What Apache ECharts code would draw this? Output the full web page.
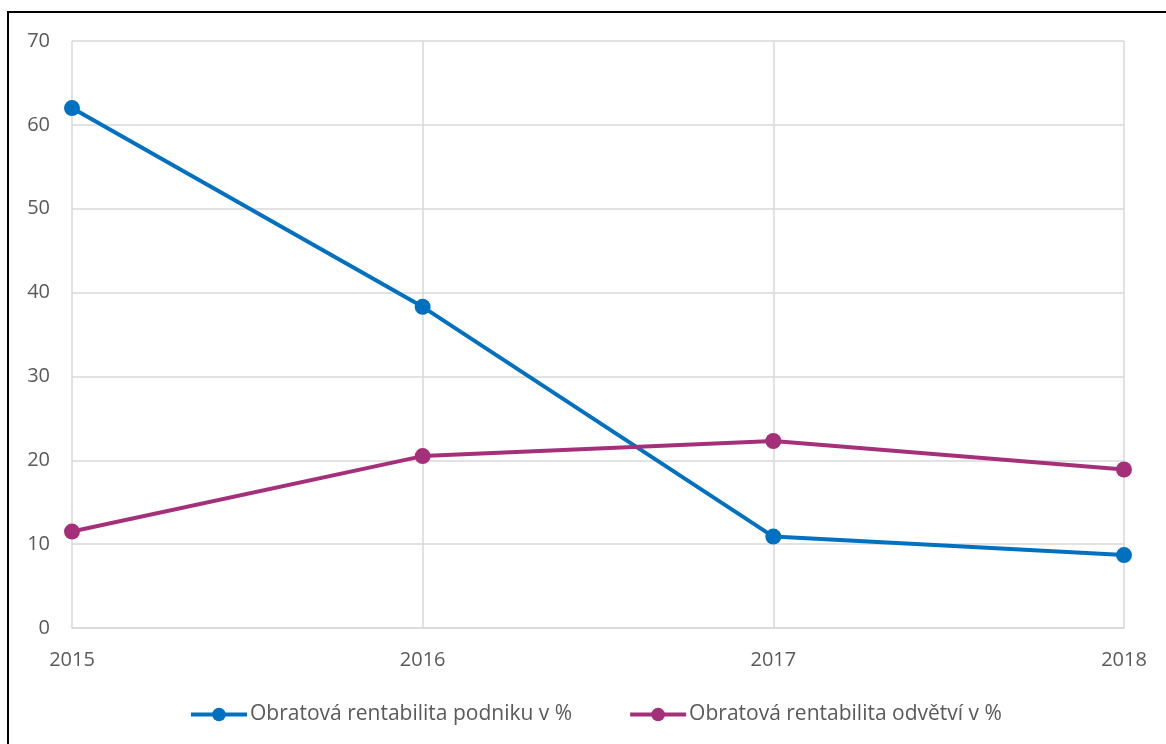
<!DOCTYPE html>
<html>
<head>
<meta charset="utf-8">
<script src="https://cdn.jsdelivr.net/npm/echarts@6/dist/echarts.min.js"></script>
<style>
  html, body { margin: 0; padding: 0; background: #fff; }
  #chart { width: 1166px; height: 744px; }
</style>
</head>
<body>
<div id="chart"></div>
<script>
// Years on the horizontal axis
const years = ['2015', '2016', '2017', '2018'];
// Return on sales of the company, %
const firmReturn = [62.0, 38.3, 10.9, 8.7];
// Return on sales of the industry, %
const industryReturn = [11.5, 20.5, 22.3, 18.9];
const seriesNames = ['Obratová rentabilita podniku v %', 'Obratová rentabilita odvětví v %'];

const textColor = '#595959';
const gridColor = '#d9d9d9';
const fontFamily = '"Open Sans", "Noto Sans", sans-serif';

const chart = echarts.init(document.getElementById('chart'), null, { renderer: 'canvas' });
chart.setOption({
  backgroundColor: '#fff',
  animation: false,
  graphic: [{
    type: 'rect',
    shape: { x: 8, y: 12, width: 1200, height: 800 },
    style: { fill: 'none', stroke: '#000', lineWidth: 2 },
    silent: true
  }],
  grid: { left: 72, right: 42, top: 41, bottom: 116, containLabel: false },
  legend: {
    top: 699,
    left: 184,
    itemWidth: 56,
    itemHeight: 17,
    itemGap: 56,
    lineStyle: { width: 4 },
    textStyle: { color: textColor, fontSize: 21, fontFamily: fontFamily, padding: [0, 0, 0, -2] },
    data: seriesNames
  },
  xAxis: {
    type: 'category',
    data: years,
    boundaryGap: false,
    axisLine: { show: true, lineStyle: { color: gridColor, width: 1.5 } },
    axisTick: { show: false },
    splitLine: { show: true, lineStyle: { color: gridColor, width: 1.5 } },
    axisLabel: { color: textColor, fontSize: 20, fontFamily: fontFamily, margin: 22, showMinLabel: true, showMaxLabel: true }
  },
  yAxis: {
    type: 'value',
    min: 0,
    max: 70,
    interval: 10,
    axisLine: { show: false },
    axisTick: { show: false },
    splitLine: { lineStyle: { color: gridColor, width: 1.5 } },
    axisLabel: { color: textColor, fontSize: 20, fontFamily: fontFamily, margin: 22 }
  },
  series: [
    {
      name: seriesNames[0],
      type: 'line',
      data: firmReturn,
      symbol: 'circle',
      symbolSize: 16,
      lineStyle: { color: '#0070c0', width: 4 },
      itemStyle: { color: '#0070c0' }
    },
    {
      name: seriesNames[1],
      type: 'line',
      data: industryReturn,
      symbol: 'circle',
      symbolSize: 16,
      lineStyle: { color: '#a5307a', width: 4 },
      itemStyle: { color: '#a5307a' }
    }
  ]
});
</script>
</body>
</html>
